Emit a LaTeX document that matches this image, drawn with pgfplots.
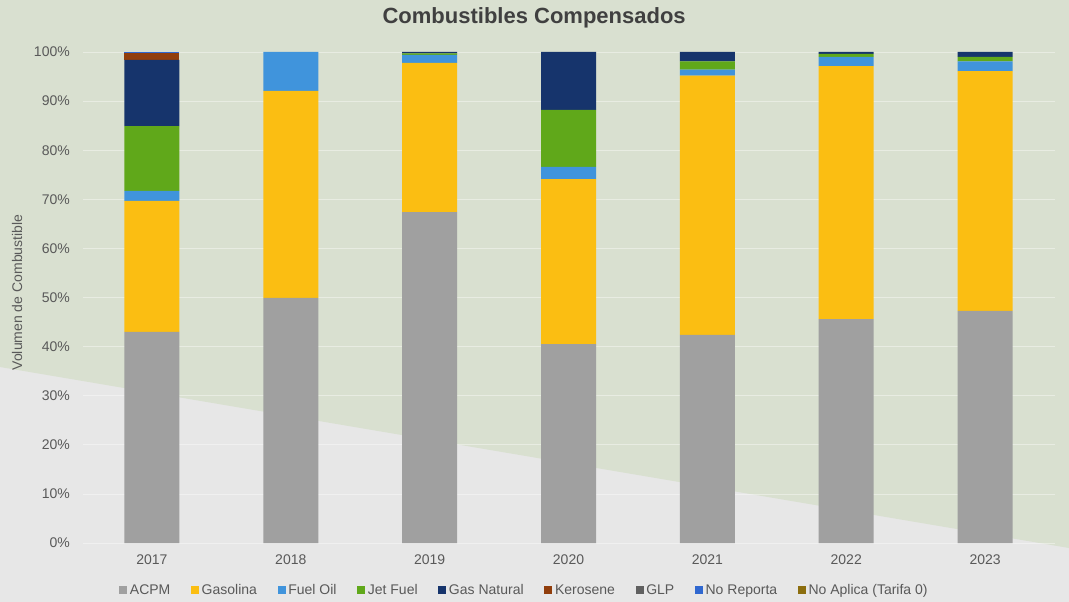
\documentclass[border=0pt]{standalone}
\usepackage{pgfplots}
\pgfplotsset{compat=1.18}
\usepackage{fontspec}
\setmainfont{Liberation Sans}
\definecolor{bggreen}{RGB}{217,224,208}
\definecolor{bggray}{RGB}{231,231,231}
\definecolor{cACPM}{RGB}{160,160,160}
\definecolor{cGas}{RGB}{251,190,18}
\definecolor{cFuel}{RGB}{64,148,220}
\definecolor{cJet}{RGB}{96,168,26}
\definecolor{cGN}{RGB}{22,52,108}
\definecolor{cKer}{RGB}{145,62,12}
\definecolor{cGLP}{RGB}{96,96,96}
\definecolor{cNoR}{RGB}{48,104,208}
\definecolor{cNoA}{RGB}{140,110,14}
\definecolor{txt}{RGB}{89,89,89}
\definecolor{ttl}{RGB}{64,64,64}
\begin{document}
\begin{tikzpicture}
\path[use as bounding box] (0,0) rectangle (801.75pt,-451.5pt);
\fill[bggray] (0,0) rectangle (801.75pt,-451.5pt);
\fill[bggreen] (0,0) -- (801.75pt,0) -- (801.75pt,-411pt) -- (0,-275.25pt) -- cycle;
\node[font=\fontsize{16.5}{18}\selectfont\bfseries, text=ttl] at (400.6pt,-13.5pt) {Combustibles Compensados};
\node[font=\fontsize{10.5}{12}\selectfont, text=txt, rotate=90] at (12.75pt,-219.4pt) {Volumen de Combustible};
\begin{axis}[
  at={(61.875pt,-407.25pt)}, anchor=south west,
  scale only axis, width=729pt, height=368.25pt,
  ybar stacked, bar width=41.25pt,
  xmin=-0.5, xmax=6.5, ymin=0, ymax=100,
  xtick={0,...,6}, xticklabels={2017,2018,2019,2020,2021,2022,2023},
  ytick={0,10,...,100},
  yticklabel={\pgfmathprintnumber{\tick}\%},
  /pgf/number format/assume math mode=true,
  axis line style={draw=none},
  major tick length=0pt,
  ymajorgrids, major grid style={draw=white, opacity=0.4, line width=0.6pt},
  tick label style={font=\fontsize{10.5}{12}\selectfont, text=txt},
  yticklabel style={xshift=-6pt},
  xticklabel style={yshift=-5.5pt},
  legend columns=-1,
  legend style={at={(0.455,-0.0978)}, anchor=center, draw=none, fill=none,
    font=\fontsize{10.5}{12}\selectfont, text=txt,
    nodes={text height=0.75em, text depth=0.25em},
    /tikz/every even column/.append style={column sep=13.5pt}},
  legend image code/.code={\fill[#1] (0.5pt,-2.5pt) rectangle (6.5pt,3.5pt);},
  every axis plot/.append style={draw=none},
]
\addplot[fill=cACPM] coordinates {(0,43.0) (1,49.9) (2,67.4) (3,40.5) (4,42.4) (5,45.6) (6,47.3)};
\addplot[fill=cGas] coordinates {(0,26.7) (1,42.2) (2,30.4) (3,33.6) (4,52.8) (5,51.5) (6,48.8)};
\addplot[fill=cFuel] coordinates {(0,2.0) (1,7.9) (2,1.6) (3,2.5) (4,1.2) (5,1.9) (6,2.0)};
\addplot[fill=cJet] coordinates {(0,13.2) (1,0) (2,0.3) (3,11.6) (4,1.7) (5,0.6) (6,0.9)};
\addplot[fill=cGN] coordinates {(0,13.5) (1,0) (2,0.3) (3,11.8) (4,1.9) (5,0.4) (6,1.0)};
\addplot[fill=cKer] coordinates {(0,1.4) (1,0) (2,0) (3,0) (4,0) (5,0) (6,0)};
\addplot[fill=cGLP] coordinates {(0,0) (1,0) (2,0) (3,0) (4,0) (5,0) (6,0)};
\addplot[fill=cNoR] coordinates {(0,0.2) (1,0) (2,0) (3,0) (4,0) (5,0) (6,0)};
\addplot[fill=cNoA] coordinates {(0,0) (1,0) (2,0) (3,0) (4,0) (5,0) (6,0)};
\legend{ACPM,Gasolina,Fuel Oil,Jet Fuel,Gas Natural,Kerosene,GLP,No Reporta,No Aplica (Tarifa 0)}
\end{axis}
\end{tikzpicture}
\end{document}
